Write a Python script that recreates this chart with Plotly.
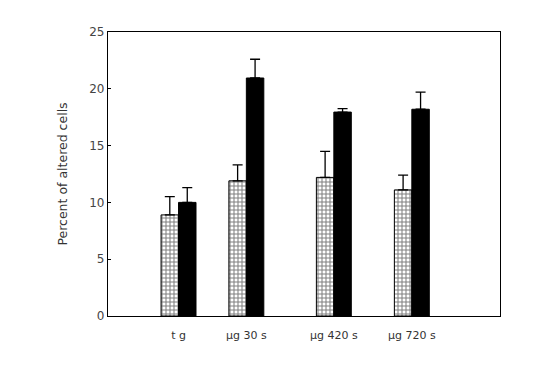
import plotly.graph_objects as go

categories = ["t g", "\u00b5g 30 s", "\u00b5g 420 s", "\u00b5g 720 s"]
group_pos = [1.0, 2.0, 3.29, 4.44]
hatched_vals = [8.9, 11.9, 12.2, 11.1]
hatched_err = [1.6, 1.4, 2.3, 1.3]
black_vals = [10.0, 20.95, 17.95, 18.2]
black_err = [1.3, 1.65, 0.3, 1.5]
y_ticks = [0, 5, 10, 15, 20, 25]

fig = go.Figure()
fig.add_trace(go.Bar(
    x=group_pos, y=hatched_vals,
    marker=dict(color="white", line=dict(color="black", width=1),
                pattern=dict(shape="+", fgcolor="black", bgcolor="white", size=4, solidity=0.45)),
    error_y=dict(type="data", symmetric=False, array=hatched_err, arrayminus=[0]*4,
                 color="black", thickness=1.3, width=5),
    showlegend=False,
))
fig.add_trace(go.Bar(
    x=group_pos, y=black_vals,
    marker=dict(color="black", line=dict(color="black", width=1)),
    error_y=dict(type="data", symmetric=False, array=black_err, arrayminus=[0]*4,
                 color="black", thickness=1.3, width=5),
    showlegend=False,
))

font = "DejaVu Sans, Liberation Sans, sans-serif"
fig.update_layout(
    width=548, height=382,
    margin=dict(l=100, r=56, t=24, b=74),
    paper_bgcolor="white", plot_bgcolor="white",
    barmode="group", bargap=0.485, bargroupgap=0,
    font=dict(family=font, size=11, color="#222"),
    xaxis=dict(
        range=[-0.04, 5.74], tickmode="array", tickvals=group_pos, ticktext=categories,
        showline=True, linecolor="black", linewidth=1.3, mirror=True,
        ticks="", showgrid=False, zeroline=False, ticklabelstandoff=9,
        tickfont=dict(size=11, color="#333"),
    ),
    yaxis=dict(
        range=[0, 25], tickmode="array", tickvals=y_ticks,
        showline=True, linecolor="black", linewidth=1.3, mirror=True,
        ticks="inside", ticklen=3, tickcolor="black",
        showgrid=False, zeroline=False,
        tickfont=dict(size=12, color="#444"),
        title=dict(text="Percent of altered cells", font=dict(size=12.5, color="#333"), standoff=18),
    ),
)
fig.write_html("out.html")
